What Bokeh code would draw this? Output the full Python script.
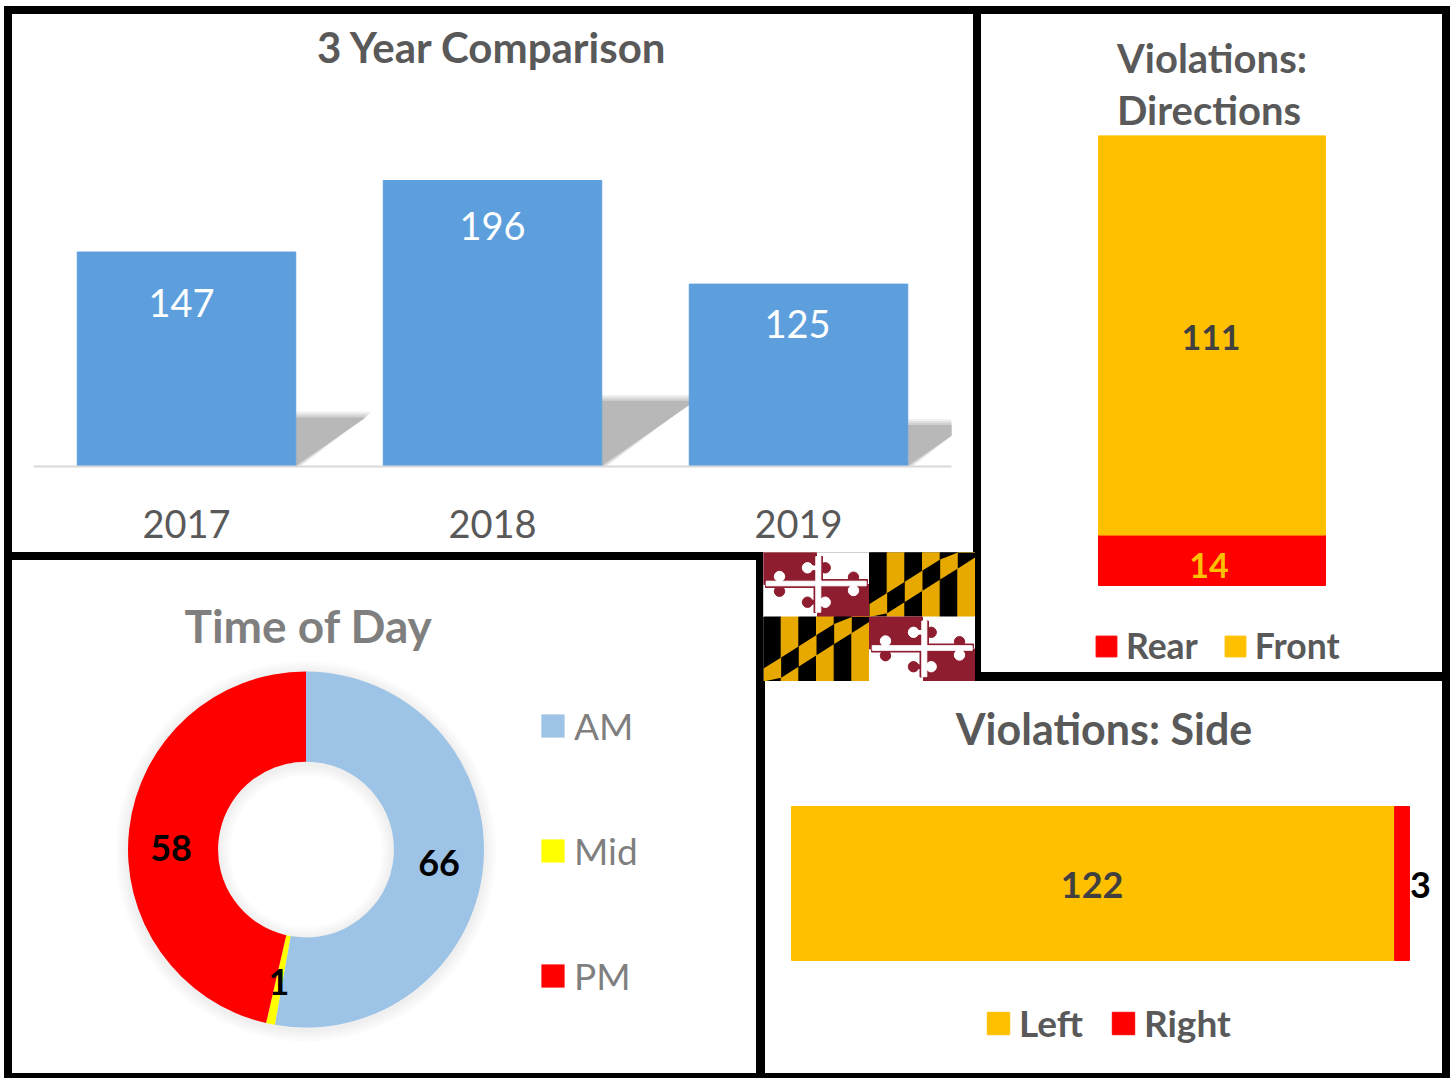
from math import pi
from bokeh.embed import file_html
from bokeh.resources import INLINE
from bokeh.plotting import figure
from bokeh.models import ColumnDataSource, Range1d, FixedTicker
from bokeh.core.properties import value

years = ["2017", "2018", "2019"]
totals = [147, 196, 125]
direction_rear = [14]
direction_front = [111]
time_labels = ["AM", "Mid", "PM"]
time_values = [66, 1, 58]
side_left = [122]
side_right = [3]

BLUE = "#5D9FDD"; GOLD = "#FFC000"; RED = "#FF0000"
LIGHTBLUE = "#9DC3E6"; YELLOW = "#FFFF00"
DARK = "#595959"; MID = "#7F7F7F"; INK = "#404040"
FONT = "Lato"


def make_fig(left, top, w, h, x_range, y_range, borders, bottom_rule=8):
    # w, h: inner size of the panel; the canvas is as large as the outer box and starts at the inner corner
    bl, br, bt, bb = borders
    extra_w, extra_h = 16, 8 + bottom_rule
    p = figure(width=w + extra_w, height=h + extra_h, x_range=x_range, y_range=y_range,
               toolbar_location=None, output_backend="svg",
               min_border_left=bl, min_border_right=br + extra_w,
               min_border_top=bt, min_border_bottom=bb + extra_h)
    p.xgrid.visible = False
    p.ygrid.visible = False
    p.outline_line_color = None
    p.background_fill_color = "white"
    p.border_fill_color = "white"
    p.styles = {"position": "absolute", "left": f"{left}px", "top": f"{top}px",
                "border-style": "solid", "border-color": "black",
                "border-width": f"8px 8px {bottom_rule}px 8px"}
    return p


def style_title(p, text, size, color, standoff, align="center", offset=0):
    p.title.text = text
    p.title.align = align
    p.title.text_font = FONT
    p.title.text_font_size = size
    p.title.text_font_style = "bold"
    p.title.text_color = color
    p.title.standoff = standoff
    p.title.offset = offset


def style_legend(p, loc, orient, gw, size, color, bold, standoff, spacing):
    lg = p.legend[0]
    lg.location = loc
    lg.orientation = orient
    lg.border_line_color = None
    lg.background_fill_alpha = 0
    lg.glyph_width = gw
    lg.glyph_height = gw
    lg.label_text_font = FONT
    lg.label_text_font_size = size
    lg.label_text_font_style = "bold" if bold else "normal"
    lg.label_text_color = color
    lg.label_standoff = standoff
    lg.spacing = spacing
    lg.padding = 0
    lg.margin = 0
    lg.label_height = 20


# ---------- 3 Year Comparison ----------
a = make_fig(4, 6, 961, 538, Range1d(0, 3), Range1d(0, 267.3), (21, 22, 62, 86))
style_title(a, "3 Year Comparison", "42px", DARK, 10)
centers = [0.5, 1.5, 2.5]
half = 0.357
for layer, alpha in ((5, .2), (3, .3), (1, .4), (-1, 1)):
    xs, ys = [], []
    for c, v in zip(centers, totals):
        xr = c + half
        H = v * 0.233
        S = v * 0.00158
        dy = layer / 1.459
        dx = layer / 306
        xs.append([xr, xr, xr + S + dx, xr + dx])
        ys.append([0, H + dy, H + dy, 0])
    a.patches(xs, ys, fill_color="#B8B8B8", fill_alpha=alpha, line_color=None)
a_src = ColumnDataSource(dict(x=centers, top=totals, label=[str(v) for v in totals],
                              dx=[-5, 0, -1], dy=[51, 45, 40]))
a.vbar(x="x", top="top", bottom=0, width=half * 2, color=BLUE, source=a_src)
a.text(x="x", y="top", text="label", x_offset="dx", y_offset="dy", source=a_src, text_align="center",
       text_baseline="middle", text_color="white", text_font=value(FONT), text_font_size="38px")
a.yaxis.visible = False
a.xaxis.ticker = FixedTicker(ticks=centers)
a.xaxis.major_label_overrides = dict(zip(centers, years))
a.xaxis.major_tick_line_color = None
a.xaxis.minor_tick_line_color = None
a.xaxis.axis_line_color = "#D9D9D9"
a.xaxis.axis_line_width = 2
a.xaxis.major_label_text_font = FONT
a.xaxis.major_label_text_font_size = "38px"
a.xaxis.major_label_text_color = DARK
a.xaxis.major_label_standoff = 37

# ---------- Violations: Directions ----------
b = make_fig(973, 6, 461, 658, Range1d(-1.0154, 1.0154), Range1d(-24.17, 125), (0, 0, 121, 0))
style_title(b, "Violations:\nDirections", "40px", DARK, 3)
b.title.text_line_height = 1.09
b.axis.visible = False
b_src = ColumnDataSource(dict(x=[0], Rear=direction_rear, Front=direction_front))
b.vbar_stack(["Rear", "Front"], x="x", width=1, color=[RED, GOLD], source=b_src,
             legend_label=["Rear", "Front"])
b.text(x=[0, 0], y=[direction_rear[0] / 2, direction_rear[0] + direction_front[0] / 2],
       text=[str(direction_rear[0]), str(direction_front[0])], x_offset=[-3, -1], y_offset=[5, 2],
       text_align="center", text_baseline="middle", text_color=[GOLD, INK],
       text_font=value(FONT), text_font_style="bold", text_font_size="34px")
style_legend(b, (112, 5), "horizontal", 26, "35.5px", DARK, True, 7, 24)

# ---------- Time of Day ----------
c = make_fig(4, 552, 744, 513, Range1d(-1.649, 2.531), Range1d(-1.258, 1.062), (0, 0, 100, 0), bottom_rule=5)
style_title(c, "Time of Day", "46px", MID, 15, align="left", offset=172)
c.axis.visible = False
for grow in (12, 9, 6, 3):
    c.annulus(x=[0], y=[-0.01], inner_radius=0.494 - grow / 178, outer_radius=1 + grow / 178,
              fill_color="black", fill_alpha=0.014, line_color=None)
tot = sum(time_values)
starts, ends, acc = [], [], 0
for v in time_values:
    starts.append(pi / 2 - acc / tot * 2 * pi)
    acc += v
    ends.append(pi / 2 - acc / tot * 2 * pi)
c_src = ColumnDataSource(dict(start=starts, end=ends, label=time_labels, color=[LIGHTBLUE, YELLOW, RED],
                              x=[0] * 3, y=[0] * 3))
c.annular_wedge(x="x", y="y", inner_radius=0.494, outer_radius=1, start_angle="start", end_angle="end",
                direction="clock", fill_color="color", line_color=None, source=c_src, legend_field="label")
c.text(x=[0, 0, 0], y=[0, 0, 0], text=[str(v) for v in time_values], x_offset=[133, -27, -135],
       y_offset=[13, 132, -2], text_align="center", text_baseline="middle", text_color="black",
       text_font=value(FONT), text_font_style="bold", text_font_size="36px")
style_legend(c, (526, 75), "vertical", 29, "37px", MID, False, 7, 80)

# ---------- Violations: Side ----------
d = make_fig(757, 673, 677, 392, Range1d(-5.26, 131.68), Range1d(-1.2338, 0.7338), (0, 0, 89, 0), bottom_rule=5)
style_title(d, "Violations: Side", "43px", DARK, 33)
d.axis.visible = False
d_src = ColumnDataSource(dict(y=[0], Left=side_left, Right=side_right))
d.hbar_stack(["Left", "Right"], y="y", height=1, color=[GOLD, RED], source=d_src,
             legend_label=["Left", "Right"])
d.text(x=[side_left[0] / 2, side_left[0] + side_right[0]], y=[0, 0],
       text=[str(side_left[0]), str(side_right[0])], x_offset=[-1, 11], y_offset=[1, 1],
       text_align=["center", "center"], text_baseline="middle", text_color=[INK, "black"],
       text_font=value(FONT), text_font_style="bold", text_font_size="36px")
style_legend(d, (219, 28), "horizontal", 28, "37px", DARK, True, 7, 26)

# ---------- Maryland flag ----------
FLAG_GOLD = "#E7A900"; FLAG_RED = "#8F1D30"
f = figure(width=212, height=129, x_range=Range1d(0, 212), y_range=Range1d(129, 0),
           toolbar_location=None, output_backend="svg",
           min_border_left=0, min_border_right=0, min_border_top=0, min_border_bottom=0)
f.axis.visible = False
f.grid.visible = False
f.outline_line_color = None
f.styles = {"position": "absolute", "left": "763px", "top": "552px", "z-index": "5"}


def calvert(ox, oy):
    W, H = 106, 64.5
    n = 6
    for i in range(n):
        u0, u1 = i / n, (i + 1) / n
        base = "black" if i % 2 == 0 else FLAG_GOLD
        band = FLAG_GOLD if i % 2 == 0 else "black"
        f.quad(left=ox + u0 * W, right=ox + u1 * W, top=oy, bottom=oy + H, color=base)
        up = lambda u: min(1, max(0, 0.80 - 1.04 * u))
        lo = lambda u: min(1, max(0, 1.115 - 1.042 * u))
        f.patch([ox + u0 * W, ox + u1 * W, ox + u1 * W, ox + u0 * W],
                [oy + up(u0) * H, oy + up(u1) * H, oy + lo(u1) * H, oy + lo(u0) * H],
                fill_color=band, line_color=None)


def crossland(ox, oy):
    W, H = 106, 64.5
    f.quad(left=ox, right=ox + W, top=oy, bottom=oy + H, color="white")
    f.quad(left=ox, right=ox + 53, top=oy, bottom=oy + 32, color=FLAG_RED)
    f.quad(left=ox + 54, right=ox + W, top=oy + 32, bottom=oy + H, color=FLAG_RED)
    lobes = [(16, 24, 1), (16, 38.7, 0), (90, 24.7, 0), (90, 38, 1),
             (44, 15.3, 1), (61.7, 15.3, 0), (44, 49.7, 0), (61.7, 49.7, 1)]
    for lx, ly, white in lobes:
        col = "white" if white else FLAG_RED
        f.circle(x=[ox + lx], y=[oy + ly], radius=5.2, color=col)
        if abs(ly - 31) > 12:
            f.quad(left=ox + min(lx, 55), right=ox + max(lx, 55), top=oy + ly - 1.8, bottom=oy + ly + 1.8, color=col)
        else:
            f.quad(left=ox + lx - 1.8, right=ox + lx + 1.8, top=oy + min(ly, 31), bottom=oy + max(ly, 31), color=col)
    f.quad(left=ox + 54, right=ox + 104, top=oy + 27, bottom=oy + 31, color=FLAG_RED)
    f.quad(left=ox + 2, right=ox + 53, top=oy + 32, bottom=oy + 35, color=FLAG_RED)
    f.quad(left=ox + 57, right=ox + 59, top=oy + 4, bottom=oy + 30, color=FLAG_RED)
    f.quad(left=ox + 50.5, right=ox + 52.4, top=oy + 34, bottom=oy + 60, color=FLAG_RED)
    f.quad(left=ox + 2.7, right=ox + 102.7, top=oy + 28.7, bottom=oy + 33.3, color="white")
    f.quad(left=ox + 52.3, right=ox + 57.3, top=oy + 4, bottom=oy + 59.7, color="white")


crossland(0, 0)
calvert(106, 0)
calvert(0, 64.5)
crossland(106, 64.5)

open("out.html", "w").write(file_html([a, b, c, d, f], INLINE))
